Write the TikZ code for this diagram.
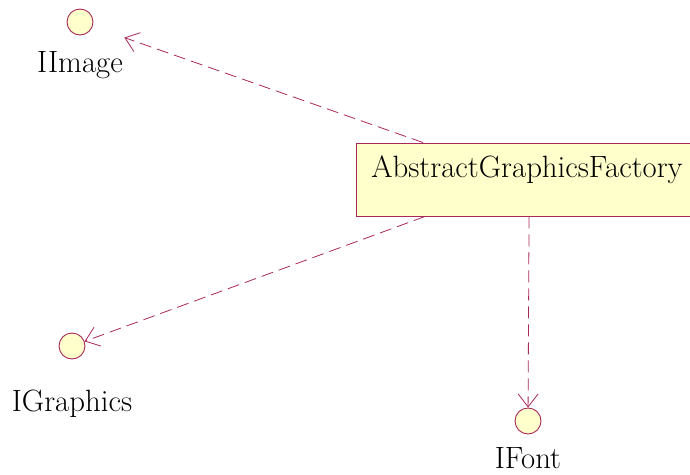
\documentclass[tikz,border=0pt]{standalone}
\usetikzlibrary{arrows.meta,calc}
\definecolor{umlline}{HTML}{A8285A}
\definecolor{umlfill}{HTML}{FFFFCC}
\tikzset{
  lbl/.style={inner sep=0pt,font=\fontsize{30.8}{36}\selectfont},
  iface/.style={circle,draw=umlline,fill=umlfill,line width=0.9pt,minimum size=26pt,inner sep=0pt},
  classbox/.style={draw=umlline,fill=umlfill,line width=0.9pt,minimum width=334pt,minimum height=73pt,inner sep=0pt},
  dep/.style={draw=umlline,line width=0.8pt,dash pattern=on 12pt off 6pt,
    -{Straight Barb[length=13pt,width=20pt,line width=0.8pt]}}
}
\begin{document}
\begin{tikzpicture}[x=1pt,y=-1pt]
\useasboundingbox (0,0) rectangle (690,474);
\node[classbox] (f) at (523.5,179.5) {};
\node[lbl] (ft) at (527,170) {AbstractGraphicsFactory};
\node[iface] (ii) at (80,22) {};
\node[lbl,anchor=base] (iil) at (80,72) {IImage};
\node[iface] (ig) at (72,346) {};
\node[lbl,anchor=base] (igl) at (72,411) {IGraphics};
\node[iface] (if) at (528,421) {};
\node[lbl,anchor=base] (ifl) at (528,468) {IFont};
\coordinate (s1) at ([xshift=67pt]f.north west);
\coordinate (s2) at ([xshift=69pt]f.south west);
\coordinate (s3) at ([xshift=173pt]f.south west);
\draw[dep,shorten >=47pt] (s1) -- (ii.center);
\draw[dep] (s2) -- (ig);
\draw[dep] (s3) -- (if);
\end{tikzpicture}
\end{document}
